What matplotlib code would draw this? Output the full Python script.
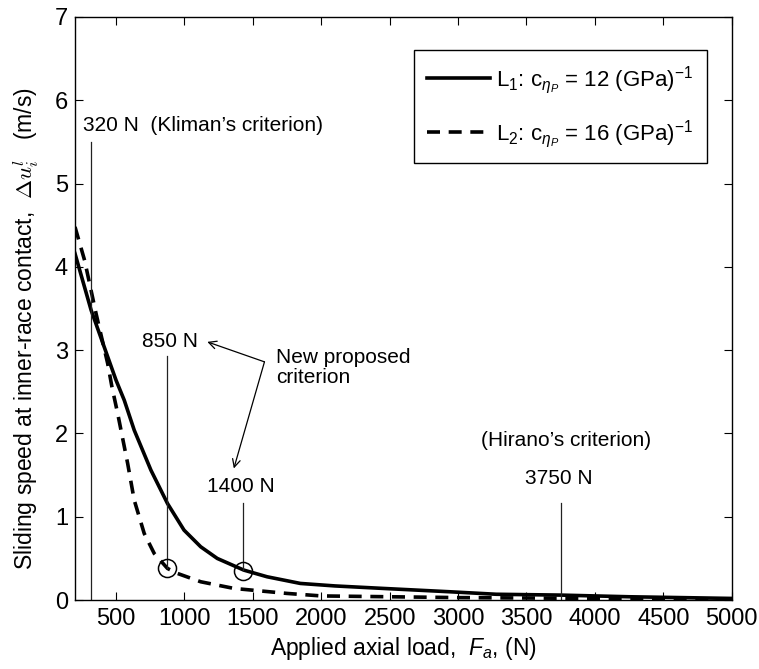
import matplotlib
matplotlib.use("Agg")
import matplotlib.pyplot as plt

plt.rcParams["font.family"] = ["Liberation Sans", "DejaVu Sans"]
plt.rcParams["mathtext.fontset"] = "custom"
plt.rcParams["mathtext.rm"] = "Liberation Sans"
plt.rcParams["mathtext.it"] = "Liberation Sans:italic"
plt.rcParams["mathtext.bf"] = "Liberation Sans:bold"

# curves
load_l1 = [200, 318, 500, 560, 633, 755, 876, 997, 1119, 1240, 1434, 1604,
           1847, 2100, 2454, 2939, 3279, 3750, 4250, 5000]
speed_l1 = [4.16, 3.48, 2.64, 2.40, 2.04, 1.56, 1.16, 0.84, 0.64, 0.50, 0.36, 0.28,
            0.20, 0.17, 0.14, 0.10, 0.07, 0.06, 0.04, 0.02]

load_l2 = [200, 270, 354, 439, 470, 512, 585, 633, 706, 779, 876, 949, 1119,
           1362, 1750, 2000, 2500, 3000, 4000, 5000]
speed_l2 = [4.48, 4.08, 3.44, 2.84, 2.56, 2.24, 1.64, 1.20, 0.80, 0.56, 0.38, 0.32, 0.22,
            0.14, 0.08, 0.05, 0.04, 0.03, 0.02, 0.01]

labels = [r"L$_1$: c$_{\eta_P}$ = 12 (GPa)$^{-1}$",
          r"L$_2$: c$_{\eta_P}$ = 16 (GPa)$^{-1}$"]

# criterion markers
crit_x = [320, 870, 1425, 3750]
crit_bottom = [0, 0.39, 0.36, 0]
crit_top = [5.5, 2.93, 1.17, 1.17]
circle_x = [870, 1430]
circle_y = [0.38, 0.35]

fig = plt.figure(figsize=(7.59, 6.69), dpi=100)
ax = fig.add_axes([0.0988, 0.103, 0.8652, 0.8716])

ax.plot(load_l1, speed_l1, color="black", lw=2.6, label=labels[0])
ax.plot(load_l2, speed_l2, color="black", lw=2.6, dashes=(3.6, 2.4), label=labels[1])

for xv, y0, y1 in zip(crit_x, crit_bottom, crit_top):
    ax.plot([xv, xv], [y0, y1], color="#222222", lw=0.9)
ax.plot(circle_x, circle_y, "o", mfc="none", mec="black", ms=13, mew=1.1)

fs = 15
ax.text(262, 5.7, "320 N  (Kliman\u2019s criterion)", fontsize=fs, va="center", ha="left")
ax.text(897, 3.1, "850 N", fontsize=fs, va="center", ha="center")
ax.text(1414, 1.36, "1400 N", fontsize=fs, va="center", ha="center")
ax.text(3793, 1.92, "(Hirano\u2019s criterion)", fontsize=fs, va="center", ha="center")
ax.text(3740, 1.46, "3750 N", fontsize=fs, va="center", ha="center")
ax.text(1672, 2.79, "New proposed\ncriterion", fontsize=fs, va="center", ha="left",
        linespacing=1.05)

arrow_props = dict(arrowstyle="->", color="black", lw=0.9, shrinkA=0, shrinkB=0,
                   mutation_scale=14)
ax.annotate("", xy=(1167, 3.10), xytext=(1585, 2.86), arrowprops=arrow_props)
ax.annotate("", xy=(1361, 1.58), xytext=(1585, 2.86), arrowprops=arrow_props)

ax.set_xlim(200, 5000)
ax.set_ylim(0, 7)
ax.set_xticks(range(500, 5001, 500))
ax.set_yticks(range(0, 8))
ax.tick_params(direction="in", length=6, width=0.8, top=True, right=True,
               labelsize=17)
ax.tick_params(axis="x", pad=6)
ax.tick_params(axis="y", pad=5)
for sp in ax.spines.values():
    sp.set_linewidth(1.0)

ax.set_xlabel(r"Applied axial load,  $F_a$, (N)", fontsize=16.5)
ax.xaxis.set_label_coords(0.5, -0.0605)
ylab = ax.set_ylabel(r"Sliding speed at inner-race contact,  $\Delta u_i^l$   (m/s)",
                     fontsize=16.5, va="center")
ylab.set_math_fontfamily("cm")
ax.yaxis.set_label_coords(-0.075, 0.465)

leg = ax.legend(loc="upper right", bbox_to_anchor=(0.979, 0.962), fontsize=16,
                handlelength=2.8, labelspacing=1.0, borderpad=0.6,
                handletextpad=0.3, fancybox=False, framealpha=1)
leg.get_frame().set_edgecolor("black")
leg.get_frame().set_linewidth(1.0)

fig.savefig("out.png", dpi=100)
